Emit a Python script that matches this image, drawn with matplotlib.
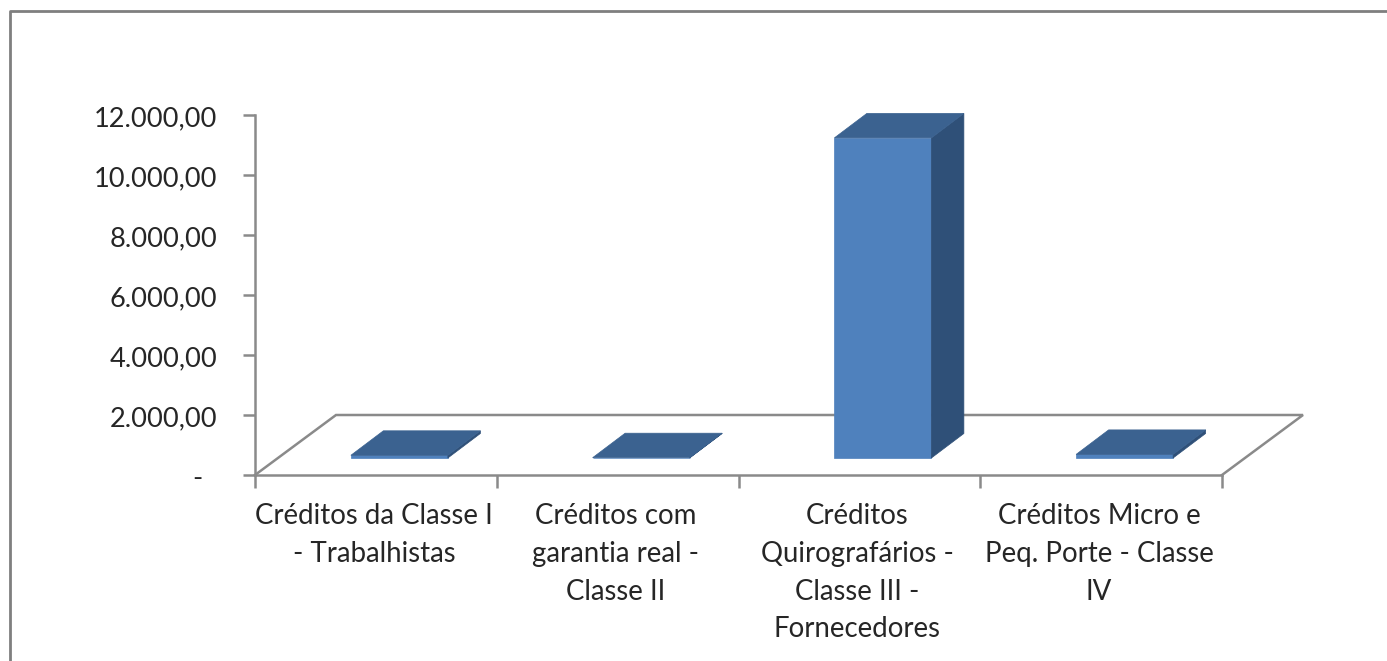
"""3D-look column chart of credits per class, drawn with 2D polygons."""

import matplotlib

matplotlib.use("Agg")
import matplotlib.pyplot as plt
from matplotlib.patches import Polygon
from matplotlib.transforms import ScaledTranslation

# ── data ──────────────────────────────────────────────────────────────────────

CATEGORIES = [
    "Créditos da Classe I\n- Trabalhistas",
    "Créditos com\ngarantia real -\nClasse II",
    "Créditos\nQuirografários -\nClasse III -\nFornecedores",
    "Créditos Micro e\nPeq. Porte - Classe\nIV",
]
VALUES = [90, 10, 10670, 120]
Y_TICKS = [0, 2000, 4000, 6000, 8000, 10000, 12000]
Y_LABELS = ["-  ", "2.000,00", "4.000,00", "6.000,00", "8.000,00", "10.000,00", "12.000,00"]

# ── style ─────────────────────────────────────────────────────────────────────

W, H = 1387, 661
LINE = "#8a8a8a"
TEXT = "#262626"
FRONT = "#4F81BD"
TOP = "#3B6290"
SIDE = "#2F5078"

plt.rcParams["font.family"] = ["Lato", "DejaVu Sans"]

fig = plt.figure(figsize=(W / 100, H / 100), dpi=100, facecolor="white")

# outer chart frame (left and top edges only, the crop cuts the others)
fig.add_artist(plt.Line2D([9.5 / W, 9.5 / W, 1], [0, 1 - 11 / H, 1 - 11 / H],
                          color="#7f7f7f", lw=2.0))

ax = fig.add_axes([255 / W, 1 - 475 / H, (1222 - 255) / W, (475 - 115) / H])
ax.set_xlim(0, len(CATEGORIES))
ax.set_ylim(0, 12000)
ax.patch.set_alpha(0)

for side in ("top", "right"):
    ax.spines[side].set_visible(False)
for side in ("left", "bottom"):
    ax.spines[side].set_color(LINE)
    ax.spines[side].set_linewidth(1.8)

# px → data conversion for the fake depth
PX_X = len(CATEGORIES) / (1222 - 255)
PX_Y = 12000 / (475 - 115)

# floor of the 3D box
floor_dx, floor_dy = 81 * PX_X, 60 * PX_Y
ax.plot([0, floor_dx, 4 + floor_dx, 4], [0, floor_dy, floor_dy, 0],
        color=LINE, lw=1.8, clip_on=False, zorder=1, solid_joinstyle="miter")

# columns
bar_w = 97 * PX_X
depth_x, depth_y = 32.5 * PX_X, 24.5 * PX_Y
base_x, base_y = 23.5 * PX_X, 17 * PX_Y
for i, val in enumerate(VALUES):
    x0 = i + 0.5 - bar_w / 2 + base_x
    x1 = x0 + bar_w
    y0 = base_y
    y1 = base_y + val
    ax.add_patch(Polygon([(x0, y0), (x1, y0), (x1, y1), (x0, y1)],
                         facecolor=FRONT, edgecolor=FRONT, lw=0.5, clip_on=False, zorder=3))
    ax.add_patch(Polygon([(x1, y0), (x1 + depth_x, y0 + depth_y),
                          (x1 + depth_x, y1 + depth_y), (x1, y1)],
                         facecolor=SIDE, edgecolor=SIDE, lw=0.5, clip_on=False, zorder=3))
    ax.add_patch(Polygon([(x0, y1), (x1, y1), (x1 + depth_x, y1 + depth_y),
                          (x0 + depth_x, y1 + depth_y)],
                         facecolor=TOP, edgecolor=TOP, lw=0.5, clip_on=False, zorder=4))

ax.set_yticks(Y_TICKS, Y_LABELS)
ax.set_xticks(range(len(CATEGORIES) + 1), [""] * (len(CATEGORIES) + 1))
ax.set_xticks([i + 0.5 for i in range(len(CATEGORIES))], CATEGORIES, minor=True)
ax.tick_params(axis="y", length=9, width=1.8, color=LINE, labelcolor=TEXT,
               labelsize=19.6, pad=18)
ax.tick_params(axis="x", which="major", length=9, width=1.8, color=LINE)
ax.tick_params(axis="x", which="minor", length=0, labelcolor=TEXT,
               labelsize=19.9, pad=20.5)
shift_x = ScaledTranslation(-2 / 100, 0, fig.dpi_scale_trans)
for lbl in ax.get_xticklabels(minor=True):
    lbl.set_linespacing(1.55)
    lbl.set_ha("center")
    lbl.set_transform(lbl.get_transform() + shift_x)
# labels sit a little below their tick in the original
nudge = ScaledTranslation(0, -3.5 / 100, fig.dpi_scale_trans)
for lbl in ax.get_yticklabels():
    lbl.set_va("center")
    lbl.set_transform(lbl.get_transform() + nudge)

fig.savefig("out.png", dpi=100, facecolor="white")
